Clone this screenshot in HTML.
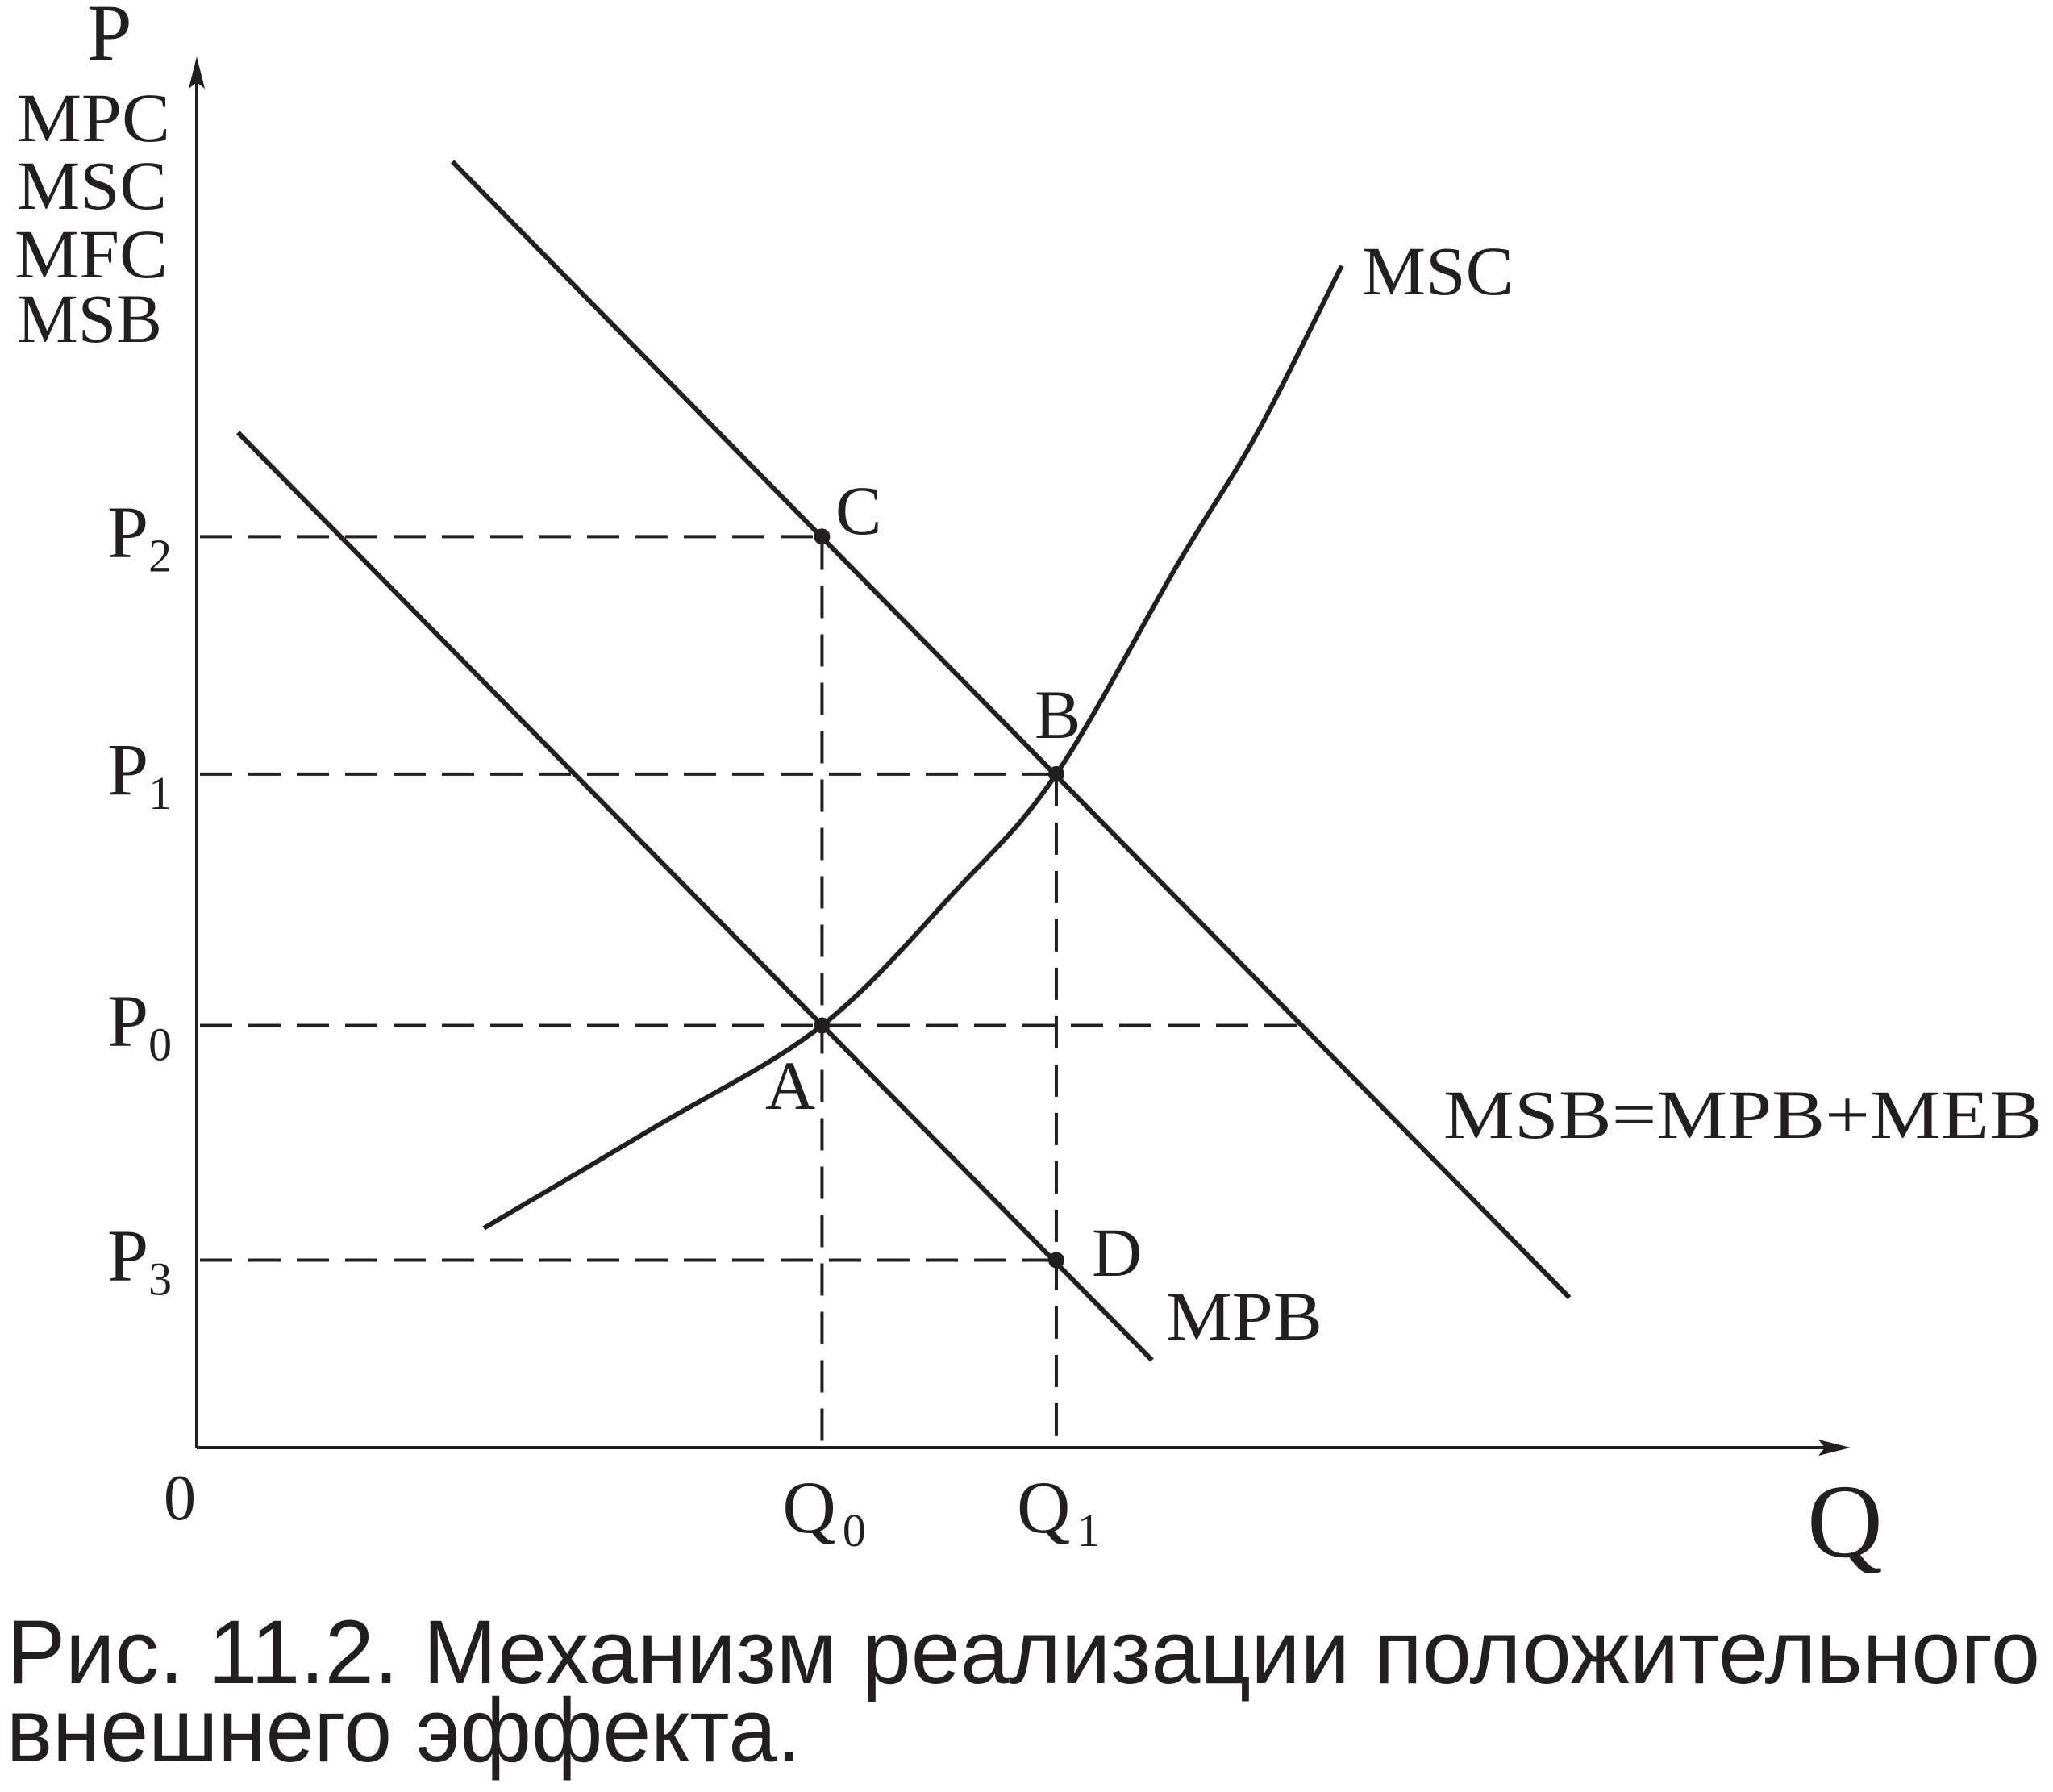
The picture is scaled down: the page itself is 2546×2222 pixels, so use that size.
<!DOCTYPE html>
<html><head><meta charset="utf-8"><style>
html,body{margin:0;padding:0;background:#fff;}
svg{display:block;}
.s{font-family:"Liberation Serif",serif;fill:#231f20;}
.a{font-family:"Liberation Sans","DejaVu Sans",sans-serif;fill:#231f20;}
</style></head><body>
<svg id="c" width="2546" height="2222" viewBox="0 0 2546 2222" xmlns="http://www.w3.org/2000/svg">
<g id="marks"></g>
<text class="s" x="108" y="74" font-size="100">P</text>
<g class="s" font-size="86">
<text x="21" y="175" textLength="190" lengthAdjust="spacingAndGlyphs">MPC</text>
<text x="21" y="259" textLength="186" lengthAdjust="spacingAndGlyphs">MSC</text>
<text x="18" y="344" textLength="190" lengthAdjust="spacingAndGlyphs">MFC</text>
<text x="21" y="424" textLength="180" lengthAdjust="spacingAndGlyphs">MSB</text>
</g>
<text class="s" x="203" y="1884" font-size="80">0</text>
<text class="s" x="2241" y="1930" font-size="130">Q</text>
<text class="s" x="1689" y="365" font-size="86" textLength="188" lengthAdjust="spacingAndGlyphs">MSC</text>
<text class="s" x="1446" y="1661" font-size="86" textLength="194" lengthAdjust="spacingAndGlyphs">MPB</text>
<text class="s" x="1790" y="1411" font-size="86" textLength="743" lengthAdjust="spacingAndGlyphs">MSB=MPB+MEB</text>
<text class="s" x="1036" y="662" font-size="86">C</text>
<text class="s" x="1283" y="915" font-size="86">B</text>
<text class="s" x="949" y="1375" font-size="86">A</text>
<text class="s" x="1354" y="1582" font-size="86">D</text>
<text class="a" x="8" y="2087" font-size="112" textLength="2522" lengthAdjust="spacingAndGlyphs">Рис. 11.2.   Механизм реализации положительного</text>
<text class="a" x="8" y="2184" font-size="112" textLength="985" lengthAdjust="spacingAndGlyphs">внешнего эффекта.</text>
</svg>
<script>
const qLevels=[37.9,52.1];
const qLabels=["0","1"];
const pLevels=[30.4,48.5,65.6,13.5];
const pLabels=["0","1","2","3"];
const msbQ=[15.5,83.2];
const msbP=[92.6,10.8];
const mpbQ=[2.5,57.9];
const mpbP=[73.1,6.3];
const mscQ=[17.4,27.8,37.9,46.0,52.1,59.5,64.3,69.4];
const mscP=[15.8,23.1,30.4,40.1,48.5,63.7,73.1,85.1];
const p0Extent=67.5;

const NS="http://www.w3.org/2000/svg";
const X=q=>244+q*20.46, Y=p=>1795-p*17.22;
const g=document.getElementById('marks');
const svg=document.getElementById('c');
function mk(t,at){const e=document.createElementNS(NS,t);for(const k in at)e.setAttribute(k,at[k]);g.appendChild(e);return e;}
const K="#231f20";
// axes
let e=mk('line',{x1:244,y1:1795,x2:244,y2:85,stroke:K,'stroke-width':4});


e=mk('line',{x1:244,y1:1795,x2:2280,y2:1795,stroke:K,'stroke-width':4});


e=mk('path',{d:'M244,70 L234,110 L244,102 L254,110 Z',fill:K});


e=mk('path',{d:'M2295,1795 L2255,1785 L2263,1795 L2255,1805 Z',fill:K});


// line helpers
const lineP=(qs,ps,q)=>ps[0]+(ps[1]-ps[0])*(q-qs[0])/(qs[1]-qs[0]);
const lineQ=(qs,ps,p)=>qs[0]+(qs[1]-qs[0])*(p-ps[0])/(ps[1]-ps[0]);
// dashed guides
const dash={stroke:K,'stroke-width':4,'stroke-dasharray':'40 20',fill:'none'};
const B_q=qLevels[1], A_q=qLevels[0];
const guideEnds=[p0Extent, B_q, A_q, B_q];
pLevels.forEach((p,i)=>{
  const e=mk('line',Object.assign({x1:248,y1:Y(p),x2:X(guideEnds[i]),y2:Y(p)},dash));
  
  
  const t=document.createElementNS(NS,'text');
  t.setAttribute('class','s');t.setAttribute('x',133);t.setAttribute('y',Y(p)+25);t.setAttribute('font-size',92);
  t.textContent='P';
  const s=document.createElementNS(NS,'tspan');s.setAttribute('font-size',58);s.setAttribute('dy',18);s.textContent=pLabels[i];t.appendChild(s);
  
  
  svg.appendChild(t);
});
const qTop=[lineP(msbQ,msbP,qLevels[0]), pLevels[1]];
qLevels.forEach((q,i)=>{
  const e=mk('line',Object.assign({x1:X(q),y1:Y(qTop[i]),x2:X(q),y2:1795},dash));
  
  
  const t=document.createElementNS(NS,'text');
  t.setAttribute('class','s');t.setAttribute('x',X(q)-49);t.setAttribute('y',1900);t.setAttribute('font-size',92);
  t.textContent='Q';
  const s=document.createElementNS(NS,'tspan');s.setAttribute('font-size',58);s.setAttribute('dy',17);s.setAttribute('dx',8);s.textContent=qLabels[i];t.appendChild(s);
  
  
  svg.appendChild(t);
});
// MSC curve (Catmull-Rom)
const pts=mscQ.map((q,i)=>[X(q),Y(mscP[i])]);
let d='M'+pts[0][0]+','+pts[0][1];
for(let i=0;i<pts.length-1;i++){
  const p0=pts[Math.max(0,i-1)],p1=pts[i],p2=pts[i+1],p3=pts[Math.min(pts.length-1,i+2)];
  d+=' C'+(p1[0]+(p2[0]-p0[0])/6)+','+(p1[1]+(p2[1]-p0[1])/6)+' '+(p2[0]-(p3[0]-p1[0])/6)+','+(p2[1]-(p3[1]-p1[1])/6)+' '+p2[0]+','+p2[1];
}
const msc=mk('path',{d:d,stroke:K,'stroke-width':6,fill:'none'});


// hatching
const L=msc.getTotalLength();const curve=[];
for(let s=0;s<=L;s+=2){const pt=msc.getPointAtLength(s);curve.push([pt.x,pt.y]);}
function curveY(x){for(let i=0;i<curve.length-1;i++){if(curve[i][0]<=x&&curve[i+1][0]>=x){const t=(x-curve[i][0])/(curve[i+1][0]-curve[i][0]||1);return curve[i][1]+t*(curve[i+1][1]-curve[i][1]);}}return 9999;}
const x0=X(qLevels[0]);const yC=Y(qTop[0]);const yA=Y(pLevels[0]);
const n=9;
for(let k=0;k<n;k++){
  const ys=yC+96+k*(yA-32-(yC+96))/(n-1);
  let x=x0,y=ys;
  while(x<2000){
    const nx=x+1, ny=y-0.53;
    const yMsb=Y(lineP(msbQ,msbP,(nx-244)/20.46));
    const yMsc=curveY(nx);
    if(ny<=yMsb||ny<=yMsc){x=nx;y=ny;break;}
    x=nx;y=ny;
  }
  const h=mk('line',{x1:x0,y1:ys,x2:x,y2:y,stroke:K,'stroke-width':3.5});
  
  
}
// demand lines
e=mk('line',{x1:X(msbQ[0]),y1:Y(msbP[0]),x2:X(msbQ[1]),y2:Y(msbP[1]),stroke:K,'stroke-width':6});


e=mk('line',{x1:X(mpbQ[0]),y1:Y(mpbP[0]),x2:X(mpbQ[1]),y2:Y(mpbP[1]),stroke:K,'stroke-width':6});


// points
const ptQ=[qLevels[0],qLevels[1],qLevels[0],qLevels[1]];
const ptP=[pLevels[0],pLevels[1],pLevels[2],pLevels[3]];
const ptN=['a','b','c','d'];
ptQ.forEach((q,i)=>{
  const c=mk('circle',{cx:X(q),cy:Y(ptP[i]),r:10,fill:K});
  
  
});
</script>
</body></html>
